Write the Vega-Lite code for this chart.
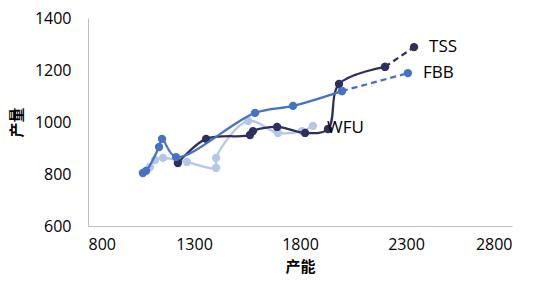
{
  "$schema": "https://vega.github.io/schema/vega-lite/v6.json",
  "width": 424,
  "height": 208,
  "autosize": {"type": "none"},
  "padding": {"left": 88, "top": 18, "right": 38, "bottom": 59},
  "background": "white",
  "config": {
    "view": {"stroke": null},
    "font": "Noto Sans",
    "axis": {"labelFont": "Open Sans", "titleFont": "Noto Sans CJK SC", "labelColor": "#000000", "titleColor": "#000000", "labelFontSize": 16, "titleFontSize": 15, "grid": false, "ticks": false, "domainColor": "#BFBFBF", "domainWidth": 1, "format": "d"}
  },
  "datasets": {
    "main": [
      {"s": "WFU", "i": 1, "x": 1092, "y": 827},
      {"s": "WFU", "i": 2, "x": 1116, "y": 854},
      {"s": "WFU", "i": 3, "x": 1154, "y": 862},
      {"s": "WFU", "i": 4, "x": 1267, "y": 846},
      {"s": "WFU", "i": 5, "x": 1404, "y": 823},
      {"s": "WFU", "i": 6, "x": 1404, "y": 862},
      {"s": "WFU", "i": 7, "x": 1555, "y": 1004},
      {"s": "WFU", "i": 8, "x": 1696, "y": 958},
      {"s": "WFU", "i": 9, "x": 1809, "y": 965},
      {"s": "WFU", "i": 10, "x": 1861, "y": 985, "lab": "WFU"},
      {"s": "TSS", "i": 1, "x": 1224, "y": 842},
      {"s": "TSS", "i": 2, "x": 1357, "y": 935},
      {"s": "TSS", "i": 3, "x": 1564, "y": 950},
      {"s": "TSS", "i": 4, "x": 1578, "y": 965},
      {"s": "TSS", "i": 5, "x": 1692, "y": 981},
      {"s": "TSS", "i": 6, "x": 1824, "y": 958},
      {"s": "TSS", "i": 7, "x": 1932, "y": 973},
      {"s": "TSS", "i": 8, "x": 1984, "y": 1146},
      {"s": "TSS", "i": 9, "x": 2201, "y": 1212},
      {"s": "FBB", "i": 1, "x": 1059, "y": 804},
      {"s": "FBB", "i": 2, "x": 1074, "y": 812},
      {"s": "FBB", "i": 3, "x": 1135, "y": 904},
      {"s": "FBB", "i": 4, "x": 1149, "y": 935},
      {"s": "FBB", "i": 5, "x": 1215, "y": 865},
      {"s": "FBB", "i": 6, "x": 1588, "y": 1035},
      {"s": "FBB", "i": 7, "x": 1767, "y": 1062},
      {"s": "FBB", "i": 8, "x": 1998, "y": 1119}
    ],
    "dash": [
      {"s": "TSS", "i": 1, "x": 2201, "y": 1212},
      {"s": "TSS", "i": 2, "x": 2338, "y": 1288, "lab": "TSS"},
      {"s": "FBB", "i": 1, "x": 1998, "y": 1119},
      {"s": "FBB", "i": 2, "x": 2309, "y": 1188, "lab": "FBB"}
    ]
  },
  "encoding": {
    "x": {"field": "x", "type": "quantitative", "scale": {"domain": [800, 2800], "nice": false}, "axis": {"values": [800, 1300, 1800, 2300, 2800], "title": "产能", "labelPadding": 10, "titlePadding": 7}},
    "y": {"field": "y", "type": "quantitative", "scale": {"domain": [600, 1400], "nice": false}, "axis": {"values": [600, 800, 1000, 1200, 1400], "title": "产量", "labelPadding": 17, "titlePadding": 10, "titleFontWeight": "bold"}},
    "color": {"field": "s", "type": "nominal", "scale": {"domain": ["WFU", "TSS", "FBB"], "range": ["#B4C7E7", "#2F2F5E", "#4472C4"]}, "legend": null}
  },
  "layer": [
    {"data": {"name": "main"}, "transform": [{"filter": "datum.s == 'WFU'"}], "mark": {"type": "line", "interpolate": "catmull-rom", "strokeWidth": 2.25}, "encoding": {"order": {"field": "i"}}},
    {"data": {"name": "main"}, "transform": [{"filter": "datum.s == 'WFU'"}], "mark": {"type": "circle", "size": 70, "opacity": 1}},
    {"data": {"name": "dash"}, "mark": {"type": "line", "strokeWidth": 2.25, "strokeDash": [6, 4]}, "encoding": {"detail": {"field": "s"}, "order": {"field": "i"}}},
    {"data": {"name": "main"}, "transform": [{"filter": "datum.s == 'TSS'"}], "mark": {"type": "line", "interpolate": "catmull-rom", "strokeWidth": 2.25}, "encoding": {"order": {"field": "i"}}},
    {"data": {"name": "main"}, "transform": [{"filter": "datum.s == 'TSS'"}], "mark": {"type": "circle", "size": 70, "opacity": 1}},
    {"data": {"name": "main"}, "transform": [{"filter": "datum.s == 'FBB'"}], "mark": {"type": "line", "interpolate": "catmull-rom", "strokeWidth": 2.25}, "encoding": {"order": {"field": "i"}}},
    {"data": {"name": "main"}, "transform": [{"filter": "datum.s == 'FBB'"}], "mark": {"type": "circle", "size": 70, "opacity": 1}},
    {"data": {"name": "dash"}, "mark": {"type": "circle", "size": 70, "opacity": 1}},
    {"data": {"name": "main"}, "transform": [{"filter": "datum.lab != null"}], "mark": {"type": "text", "align": "left", "dx": 14, "dy": 2, "fontSize": 17, "font": "Open Sans", "color": "#000000"}, "encoding": {"text": {"field": "lab"}, "color": {"value": "#000000"}}},
    {"data": {"name": "dash"}, "transform": [{"filter": "datum.lab != null"}], "mark": {"type": "text", "align": "left", "dx": 15, "fontSize": 17, "font": "Open Sans", "color": "#000000"}, "encoding": {"text": {"field": "lab"}, "color": {"value": "#000000"}}}
  ]
}
